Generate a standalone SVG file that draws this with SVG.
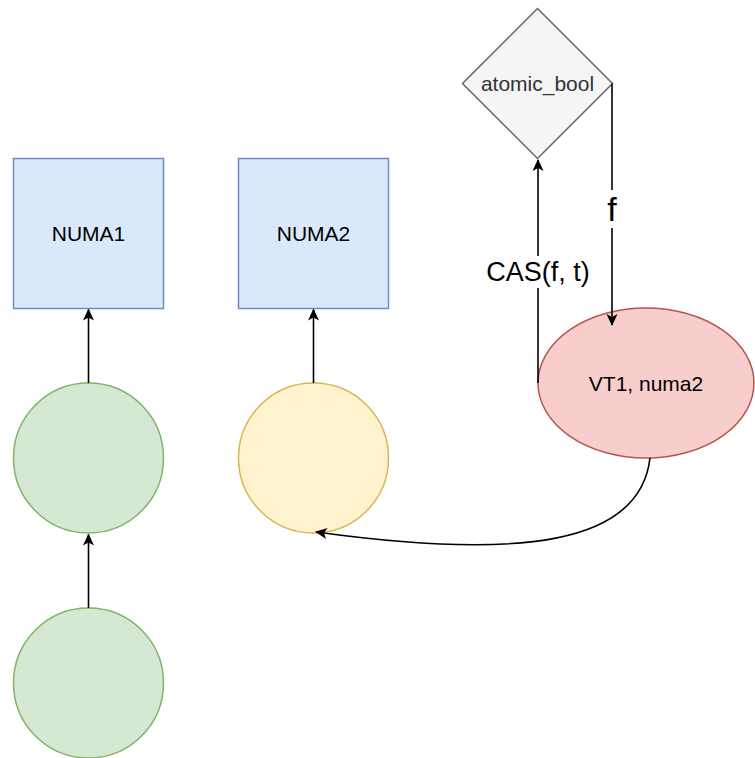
<svg xmlns="http://www.w3.org/2000/svg" width="755" height="758" viewBox="0 0 755 758">
  <style>
    .lbl { font-family: "Liberation Sans", Arial, sans-serif; font-size: 21px; fill: #000; text-anchor: middle; dominant-baseline: central; }
    .numa { fill: #dae8fc; stroke: #6c8ebf; stroke-width: 1.5; }
    .green { fill: #d5e8d4; stroke: #82b366; stroke-width: 1.5; }
    .yellow { fill: #fff2cc; stroke: #d6b656; stroke-width: 1.5; }
    .red { fill: #f8cecc; stroke: #b85450; stroke-width: 1.5; }
    .grey { fill: #f5f5f5; stroke: #666666; stroke-width: 1.5; }
    .edge { fill: none; stroke: #000; stroke-width: 1.6; marker-end: url(#arrow); }
    .elbl { font-family: "Liberation Sans", Arial, sans-serif; fill: #000; text-anchor: middle; dominant-baseline: central; }
  </style>
  <defs>
    <marker id="arrow" viewBox="0 0 12 12" refX="11" refY="6" markerWidth="12" markerHeight="12" markerUnits="userSpaceOnUse" orient="auto">
      <path d="M0,0.5 L12,6 L0,11.5 L3,6 Z" fill="#000"/>
    </marker>
  </defs>
  <rect width="755" height="758" fill="#ffffff"/>

  <g id="numa1">
    <rect class="numa" x="13.5" y="158.5" width="150" height="150"/>
    <text class="lbl" x="88.5" y="233.5">NUMA1</text>
  </g>
  <g id="numa2">
    <rect class="numa" x="238.5" y="158.5" width="150" height="150"/>
    <text class="lbl" x="313.5" y="233.5">NUMA2</text>
  </g>
  <g id="green1">
    <circle class="green" cx="88.5" cy="458" r="75"/>
  </g>
  <g id="green2">
    <circle class="green" cx="88.5" cy="683" r="75"/>
  </g>
  <g id="yellow">
    <circle class="yellow" cx="313.5" cy="458" r="75"/>
  </g>
  <g id="atomic_bool">
    <path class="grey" d="M537.5,8.5 L612.5,83.5 L537.5,158.5 L462.5,83.5 Z"/>
    <text class="lbl" x="537.5" y="83.5" style="fill:#333333">atomic_bool</text>
  </g>
  <g id="vt1">
    <ellipse class="red" cx="646" cy="383" rx="108" ry="75"/>
    <text class="lbl" x="646" y="383">VT1, numa2</text>
  </g>

  <g id="connectors">
    <path class="edge" d="M88.5,383 L88.5,309.5"/>
    <path class="edge" d="M88.5,608 L88.5,534.5"/>
    <path class="edge" d="M313.5,383 L313.5,309.5"/>
    <path class="edge" d="M538,383 L538,160"/>
    <path class="edge" d="M612,83.5 L612,325"/>
    <path class="edge" d="M650,458 C640,545 520,560 316,532"/>
    <rect x="478" y="256" width="120" height="32" fill="#fff"/>
    <text class="elbl" x="538" y="272" style="font-size:27px">CAS(f, t)</text>
    <rect x="600" y="190" width="24" height="38" fill="#fff"/>
    <text class="elbl" x="612" y="209" style="font-size:34px">f</text>
  </g>
</svg>
